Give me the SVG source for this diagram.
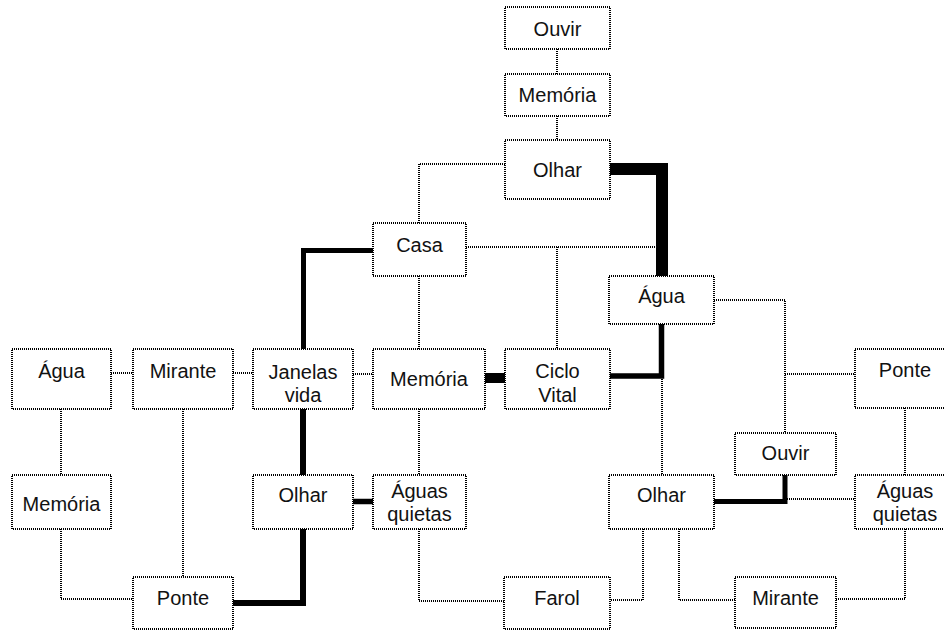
<svg xmlns="http://www.w3.org/2000/svg" width="944" height="630" viewBox="0 0 944 630">
  <style>
    .box { fill: #fff; stroke: #000; stroke-width: 2; stroke-dasharray: 1 1; }
    .lbl { font-family: "Liberation Sans", Arial, sans-serif; font-size: 20px; fill: #111; text-anchor: middle; }
    .dot { fill: none; stroke: #000; stroke-width: 2; stroke-dasharray: 1 1; }
    .thick { fill: none; stroke: #000; stroke-linejoin: miter; stroke-linecap: butt; }
  </style>
  <rect width="944" height="630" fill="#fff"/>

  <!-- connectors -->
  <g id="connectors">
    <g id="dotted-links">
      <path class="dot" d="M557 49 V74"/>
      <path class="dot" d="M557 116 V140"/>
      <path class="dot" d="M505 164 H419 V223"/>
      <path class="dot" d="M466 247 H656"/>
      <path class="dot" d="M557 247 V349"/>
      <path class="dot" d="M419 276 V349"/>
      <path class="dot" d="M353 374 H373"/>
      <path class="dot" d="M111 373 H133"/>
      <path class="dot" d="M233 373 H253"/>
      <path class="dot" d="M61 409 V475"/>
      <path class="dot" d="M61 529 V599 H133"/>
      <path class="dot" d="M183 409 V577"/>
      <path class="dot" d="M419 409 V475"/>
      <path class="dot" d="M419 529 V601 H504"/>
      <path class="dot" d="M714 300 H785 V433"/>
      <path class="dot" d="M785 374 H855"/>
      <path class="dot" d="M662 379 V475"/>
      <path class="dot" d="M905 408 V475"/>
      <path class="dot" d="M787 499 H855"/>
      <path class="dot" d="M643 529 V600 H610"/>
      <path class="dot" d="M679 529 V600 H735"/>
      <path class="dot" d="M905 529 V599 H836"/>
    </g>
    <g id="strong-links">
      <path class="thick" stroke-width="12" d="M610 169 H662 V276"/>
      <path class="thick" stroke-width="5" d="M373 250.5 H303.5 V349"/>
      <path class="thick" stroke-width="6" d="M303 409 V475"/>
      <path class="thick" stroke-width="6" d="M303 529 V603 H233"/>
      <path class="thick" stroke-width="10" d="M485 378 H505"/>
      <path class="thick" stroke-width="5.5" d="M610 376 H661.5 V324"/>
      <path class="thick" stroke-width="5.5" d="M353 501.5 H373"/>
      <path class="thick" stroke-width="5" d="M714 501.5 H785 V475"/>
    </g>
  </g>

  <!-- nodes -->
  <g id="ouvir-top"><rect class="box" x="505" y="7" width="105" height="42"/><text class="lbl" x="557.5" y="36">Ouvir</text></g>
  <g id="memoria-top"><rect class="box" x="505" y="74" width="105" height="42"/><text class="lbl" x="557.5" y="102">Memória</text></g>
  <g id="olhar-top"><rect class="box" x="505" y="140" width="105" height="59"/><text class="lbl" x="557.5" y="177">Olhar</text></g>
  <g id="casa"><rect class="box" x="373" y="223" width="93" height="53"/><text class="lbl" x="419.5" y="252">Casa</text></g>
  <g id="agua-right"><rect class="box" x="609" y="276" width="105" height="48"/><text class="lbl" x="661.5" y="303">Água</text></g>
  <g id="agua-left"><rect class="box" x="12" y="349" width="99" height="60"/><text class="lbl" x="61.5" y="378">Água</text></g>
  <g id="mirante-left"><rect class="box" x="133" y="349" width="100" height="60"/><text class="lbl" x="183" y="378">Mirante</text></g>
  <g id="janelas-vida"><rect class="box" x="253" y="349" width="100" height="60"/><text class="lbl" x="303" y="379">Janelas</text><text class="lbl" x="303" y="402">vida</text></g>
  <g id="memoria-mid"><rect class="box" x="373" y="349" width="112" height="60"/><text class="lbl" x="429" y="386">Memória</text></g>
  <g id="ciclo-vital"><rect class="box" x="505" y="349" width="105" height="60"/><text class="lbl" x="557.5" y="378">Ciclo</text><text class="lbl" x="557.5" y="402">Vital</text></g>
  <g id="ponte-right"><rect class="box" x="855" y="349" width="100" height="59"/><text class="lbl" x="905" y="377">Ponte</text></g>
  <g id="ouvir-right"><rect class="box" x="735" y="433" width="101" height="42"/><text class="lbl" x="785.5" y="460">Ouvir</text></g>
  <g id="memoria-left"><rect class="box" x="12" y="475" width="99" height="54"/><text class="lbl" x="61.5" y="511">Memória</text></g>
  <g id="olhar-left"><rect class="box" x="253" y="475" width="100" height="54"/><text class="lbl" x="303" y="502">Olhar</text></g>
  <g id="aguas-quietas-mid"><rect class="box" x="373" y="475" width="93" height="54"/><text class="lbl" x="419.5" y="498">Águas</text><text class="lbl" x="419.5" y="521">quietas</text></g>
  <g id="olhar-right"><rect class="box" x="609" y="475" width="105" height="54"/><text class="lbl" x="661.5" y="502">Olhar</text></g>
  <g id="aguas-quietas-right"><rect class="box" x="855" y="475" width="100" height="54"/><text class="lbl" x="905" y="498">Águas</text><text class="lbl" x="905" y="521">quietas</text></g>
  <g id="ponte-bottom"><rect class="box" x="133" y="577" width="100" height="52"/><text class="lbl" x="183" y="605">Ponte</text></g>
  <g id="farol"><rect class="box" x="504" y="577" width="106" height="52"/><text class="lbl" x="557" y="605">Farol</text></g>
  <g id="mirante-bottom"><rect class="box" x="735" y="577" width="101" height="51"/><text class="lbl" x="785.5" y="605">Mirante</text></g>
</svg>
